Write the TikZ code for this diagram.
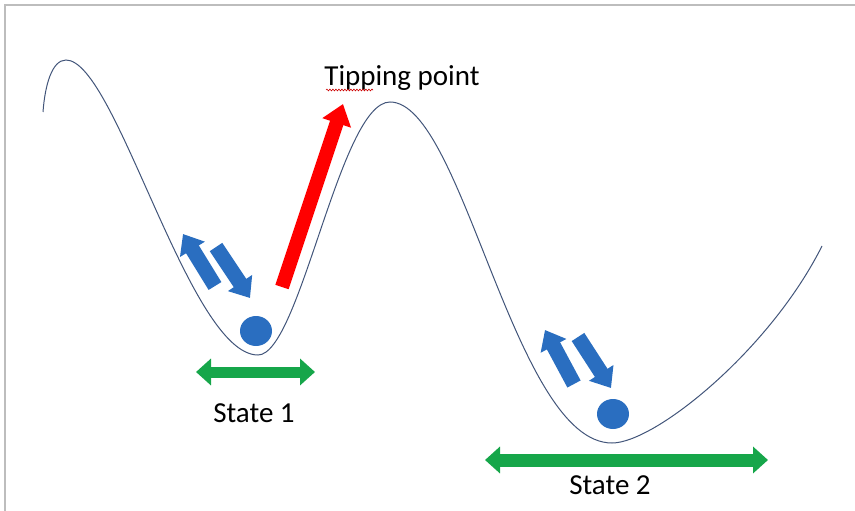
\documentclass[tikz,border=0pt]{standalone}
\usepackage{fontspec}
\setmainfont{Carlito}
\usetikzlibrary{arrows.meta,shapes.geometric,decorations.pathmorphing}
\definecolor{ballblue}{HTML}{2A6EC0}
\definecolor{tipred}{HTML}{FF0000}
\definecolor{stategreen}{HTML}{16A64A}
\definecolor{curvecol}{HTML}{42557A}
\definecolor{framegray}{HTML}{BDBDBD}
\tikzset{
  landscape/.style={draw=curvecol, line width=1pt},
  ball/.style={ellipse, fill=ballblue, draw=none, minimum width=32pt, minimum height=30pt, inner sep=0pt},
  bluearrow/.style={ballblue, line width=15pt, -{Triangle[length=18pt,width=28pt]}},
  redarrow/.style={tipred, line width=14pt, -{Triangle[length=20pt,width=29pt]}},
  greenarrow/.style={stategreen, line width=#1, {Triangle[length=15pt,width=26pt]}-{Triangle[length=15pt,width=26pt]}},
  label/.style={font=\fontsize{29}{34}\selectfont, text=black, inner sep=0pt},
}
\begin{document}
\begin{tikzpicture}[x=1pt,y=-1pt]
\useasboundingbox (0,0) rectangle (855,511);
% frame
\draw[framegray, line width=1.5pt] (5,511) -- (5,5) -- (855,5);
% landscape curve
\coordinate (c0) at (43,112);
\coordinate (pk1) at (66,60);
\coordinate (vl1) at (258,355);
\coordinate (pk2) at (390,102);
\coordinate (vl2) at (612,443);
\coordinate (c5) at (822,246);
\draw[landscape] (c0) .. controls (45,85) and (52,60) .. (pk1)
  .. controls (116,60) and (189,355) .. (vl1)
  .. controls (300,355) and (340,102) .. (pk2)
  .. controls (463,102) and (514,443) .. (vl2)
  .. controls (655,443) and (770,350) .. (c5);
% balls
\node[ball] (ball1) at (256,331) {};
\node[ball] (ball2) at (613,414) {};
% coordinates for arrows
\coordinate (u1s) at (215,286); \coordinate (u1e) at (183,234);
\coordinate (d1s) at (216,247); \coordinate (d1e) at (250,298);
\coordinate (u2s) at (574,384); \coordinate (u2e) at (545,330);
\coordinate (d2s) at (578,337); \coordinate (d2e) at (611,388);
\coordinate (rs) at (282,287); \coordinate (re) at (343,104);
\coordinate (g1l) at (196,372); \coordinate (g1r) at (315,372);
\coordinate (g2l) at (485,460); \coordinate (g2r) at (768,460);
% arrows
\draw[bluearrow] (u1s) -- (u1e);
\draw[bluearrow] (d1s) -- (d1e);
\draw[bluearrow] (u2s) -- (u2e);
\draw[bluearrow] (d2s) -- (d2e);
\draw[redarrow] (rs) -- (re);
\draw[greenarrow=11pt] (g1l) -- (g1r);
\draw[greenarrow=13pt] (g2l) -- (g2r);
% labels
\node[label, anchor=base] (tip) at (402,85) {Tipping point};
\node[label, anchor=base] (s1) at (254,422) {State 1};
\node[label, anchor=base] (s2) at (610,494) {State 2};
\coordinate (sqa) at (326,90); \coordinate (sqb) at (373,90);
\draw[tipred!80!black, line width=0.6pt, decorate, decoration={snake, amplitude=0.9pt, segment length=3pt}] (sqa) -- (sqb);
\end{tikzpicture}
\end{document}
